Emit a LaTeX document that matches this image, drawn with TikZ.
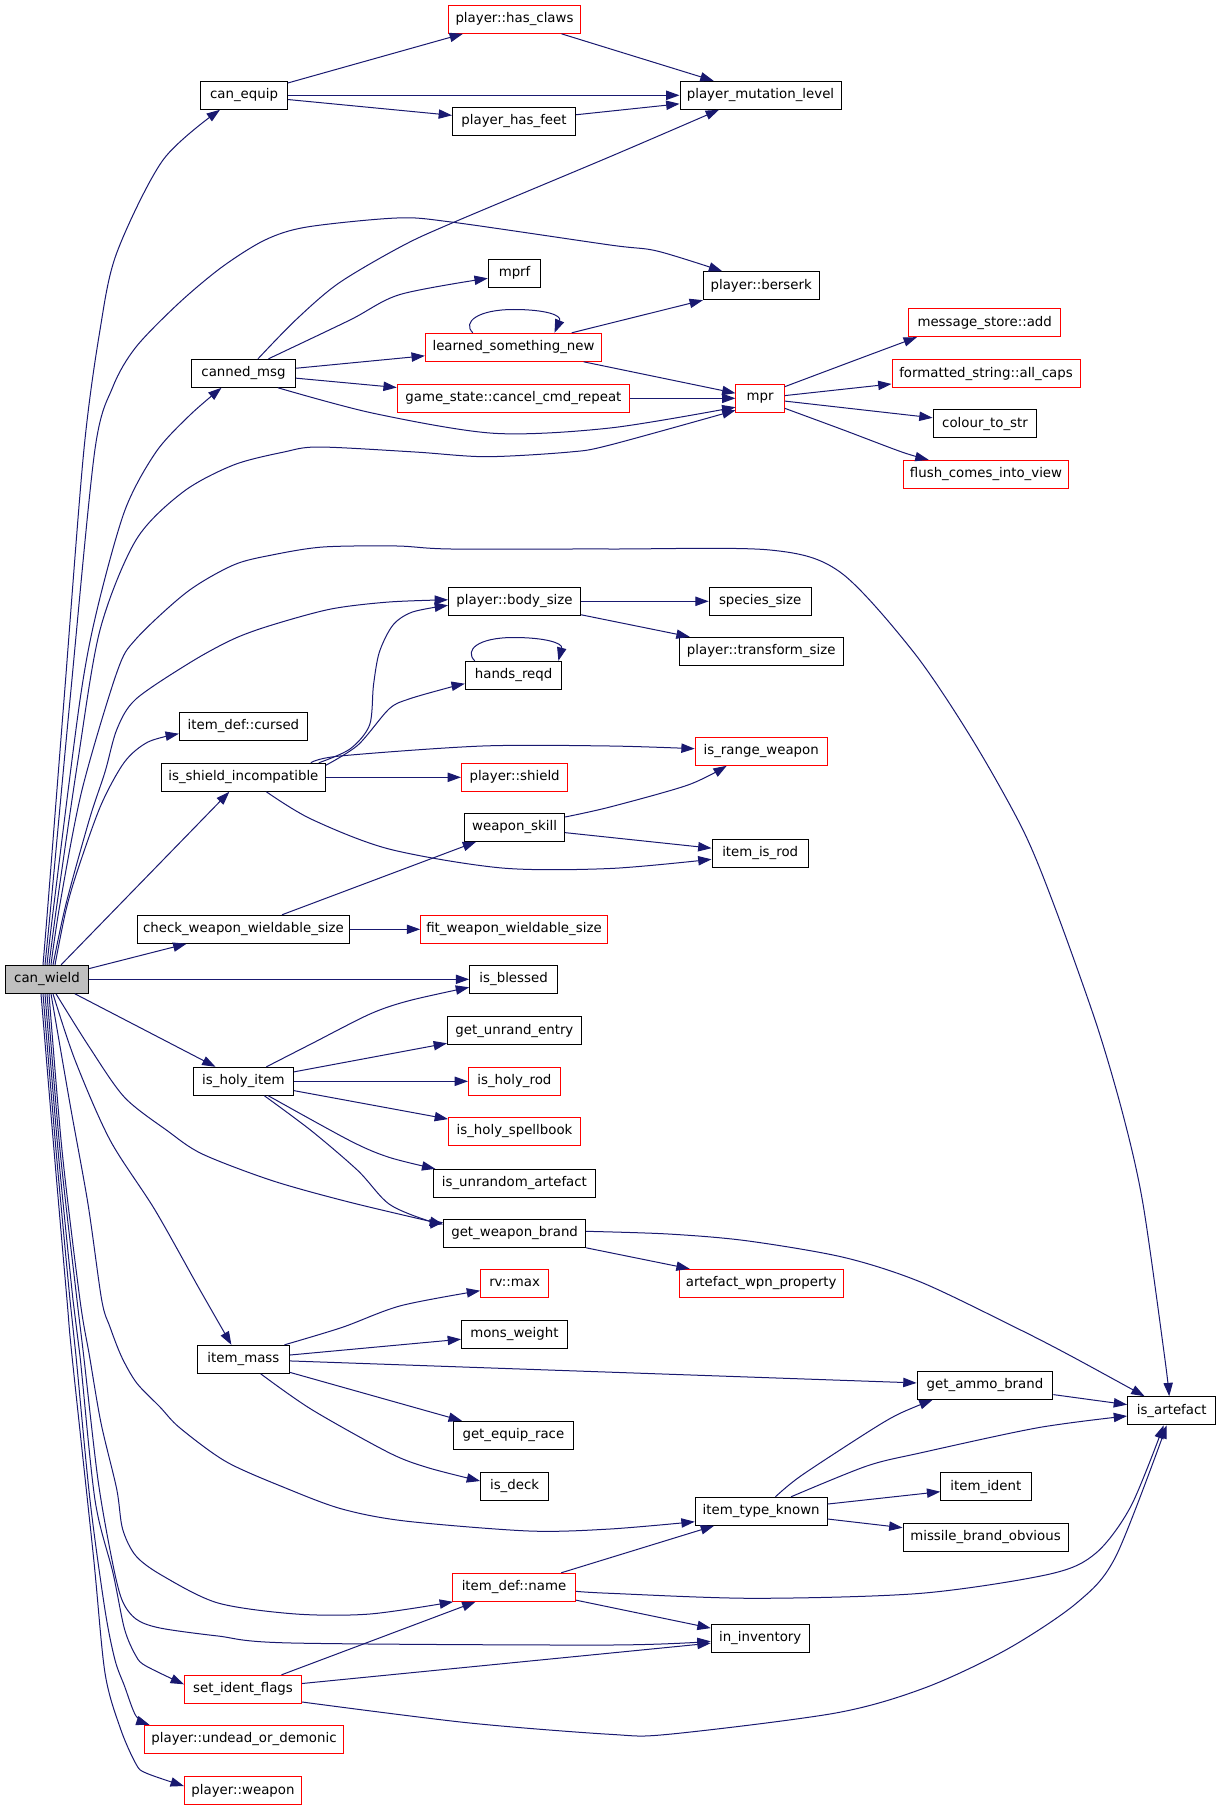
\documentclass[tikz,border=0pt]{standalone}
\usepackage{fontspec}
\setmainfont{DejaVu Sans}
\usetikzlibrary{arrows.meta,calc}
\definecolor{edgec}{HTML}{191970}
\definecolor{boxred}{HTML}{FF0000}
\definecolor{cwfill}{HTML}{BFBFBF}
\begin{document}
\begin{tikzpicture}[x=0.75pt,y=-0.75pt,
  box/.style={draw=black, fill=white, line width=0.75pt, minimum height=21pt, inner sep=0pt, font=\fontsize{10}{12}\selectfont},
  rbox/.style={box, draw=boxred},
  arr/.style={draw=edgec, line width=0.75pt, -{Triangle[length=10pt,width=7pt]}}]
\fill[white] (0,0) rectangle (1221,1808);
\useasboundingbox (0,0) rectangle (1221,1808);
% nodes
\node[rbox,minimum width=99pt] (hc) at (514.5,19.3) {player::has\_claws};
\node[box,minimum width=65.25pt] (ce) at (244,95.3) {can\_equip};
\node[box,minimum width=92.25pt] (hf) at (514,121.3) {player\_has\_feet};
\node[box,minimum width=120.75pt] (ml) at (760.5,95.3) {player\_mutation\_level};
\node[box,minimum width=86.7pt] (bk) at (761.2,285.7) {player::berserk};
\node[box,minimum width=39.45pt] (mprf) at (514.6,273.3) {mprf};
\node[rbox,minimum width=132.2pt] (ln) at (513.5,347.3) {learned\_something\_new};
\node[box,minimum width=78.2pt] (cm) at (243.5,373.3) {canned\_msg};
\node[rbox,minimum width=174.2pt] (cc) at (513.4,398.3) {game\_state::cancel\_cmd\_repeat};
\node[rbox,minimum width=36.2pt] (mpr) at (760.1,398.3) {mpr};
\node[rbox,minimum width=113.85pt] (msa) at (984.7,322.7) {message\_store::add};
\node[rbox,minimum width=141pt] (fac) at (986,373.7) {formatted\_string::all\_caps};
\node[box,minimum width=77.85pt] (cts) at (985,423.7) {colour\_to\_str};
\node[rbox,minimum width=124.35pt] (fciv) at (986,474.3) {flush\_comes\_into\_view};
\node[box,minimum width=99pt] (bs) at (514.5,601.3) {player::body\_size};
\node[box,minimum width=76.5pt] (ss) at (760.2,601.3) {species\_size};
\node[box,minimum width=122.85pt] (ts) at (761.2,651.3) {player::transform\_size};
\node[box,minimum width=72.4pt] (hr) at (513.6,675.3) {hands\_reqd};
\node[box,minimum width=96pt] (cur) at (243.4,726.3) {item\_def::cursed};
\node[box,minimum width=122.85pt] (si) at (243.4,777.3) {is\_shield\_incompatible};
\node[rbox,minimum width=79.65pt] (ps) at (514.6,777.3) {player::shield};
\node[rbox,minimum width=99pt] (rw) at (761.2,751.3) {is\_range\_weapon};
\node[box,minimum width=75pt] (ws) at (514.6,827.3) {weapon\_skill};
\node[box,minimum width=72.3pt] (rod) at (760.2,853.3) {item\_is\_rod};
\node[box,minimum width=159pt] (cws) at (243.4,929.3) {check\_weapon\_wieldable\_size};
\node[rbox,minimum width=140.1pt] (fws) at (514,929.3) {fit\_weapon\_wieldable\_size};
\node[box,fill=cwfill,minimum width=62.5pt] (cw) at (47,979.3) {can\_wield};
\node[box,minimum width=66pt] (ib) at (513.6,979.3) {is\_blessed};
\node[box,minimum width=100.35pt] (gue) at (514.4,1030.7) {get\_unrand\_entry};
\node[box,minimum width=75pt] (hi) at (243.4,1081.3) {is\_holy\_item};
\node[rbox,minimum width=68.85pt] (ihr) at (514.4,1081.3) {is\_holy\_rod};
\node[rbox,minimum width=99pt] (ihs) at (514.5,1131.3) {is\_holy\_spellbook};
\node[box,minimum width=121.35pt] (iua) at (514.4,1183.3) {is\_unrandom\_artefact};
\node[box,minimum width=106.5pt] (wb) at (514.6,1233.3) {get\_weapon\_brand};
\node[rbox,minimum width=51pt] (rv) at (514.6,1283.3) {rv::max};
\node[rbox,minimum width=122.85pt] (awp) at (761.2,1283.3) {artefact\_wpn\_property};
\node[box,minimum width=79.35pt] (mw) at (514.4,1334.3) {mons\_weight};
\node[box,minimum width=69.15pt] (im) at (243.4,1359.3) {item\_mass};
\node[box,minimum width=101.85pt] (ab) at (985,1385.3) {get\_ammo\_brand};
\node[box,minimum width=66.2pt] (ia) at (1171.7,1410.7) {is\_artefact};
\node[box,minimum width=90.15pt] (ger) at (513.4,1435.3) {get\_equip\_race};
\node[box,minimum width=51pt] (dk) at (514.6,1486.3) {is\_deck};
\node[box,minimum width=67.7pt] (iid) at (985.9,1486.7) {item\_ident};
\node[box,minimum width=99pt] (tk) at (761.2,1511.3) {item\_type\_known};
\node[box,minimum width=123.75pt] (mbo) at (985.5,1537.3) {missile\_brand\_obvious};
\node[rbox,minimum width=92.25pt] (nm) at (514,1587.3) {item\_def::name};
\node[box,minimum width=73.5pt] (inv) at (760.2,1638.3) {in\_inventory};
\node[rbox,minimum width=87.9pt] (sf) at (243,1689.3) {set\_ident\_flags};
\node[rbox,minimum width=149.4pt] (ud) at (244,1739.3) {player::undead\_or\_demonic};
\node[rbox,minimum width=87.9pt] (pw) at (243,1790.7) {player::weapon};
% straight edges
\draw[arr] (ce) -- (hc);
\draw[arr] (ce) -- (ml);
\draw[arr] (ce) -- (hf);
\draw[arr] (hc) -- (ml);
\draw[arr] (hf) -- (ml);
\draw[arr] (cm) -- (ln);
\draw[arr] (cm) -- (cc);
\draw[arr] (ln) -- (bk);
\draw[arr] (ln) -- (mpr);
\draw[arr] (cc) -- (mpr);
\draw[arr] (mpr) -- (fac);
\draw[arr] (mpr) -- (cts);
\draw[arr] (cw) -- (si);
\draw[arr] (cw) -- (cws);
\draw[arr] (cw) -- (ib);
\draw[arr] (cw) -- (hi);
\draw[arr] (si) -- (ps);
\draw[arr] (ws) -- (rod);
\draw[arr] (cws) -- (ws);
\draw[arr] (cws) -- (fws);
\draw[arr] (bs) -- (ss);
\draw[arr] (bs) -- (ts);
\draw[arr] (hi) -- (gue);
\draw[arr] (hi) -- (ihr);
\draw[arr] (hi) -- (ihs);
\draw[arr] (wb) -- (awp);
\draw[arr] (im) -- (mw);
\draw[arr] (im) -- (ab);
\draw[arr] (im) -- (ger);
\draw[arr] (ab) -- (ia);
\draw[arr] (tk) -- (iid);
\draw[arr] (tk) -- (mbo);
\draw[arr] (nm) -- (tk);
\draw[arr] (nm) -- (inv);
\draw[arr] (sf) -- (nm);
\draw[arr] (sf) -- (inv);
% self loops
\draw[arr] ($(ln.north)+(-40.7,0)$) .. controls (462,322) and (478,309.5) .. (513.6,309.5) .. controls (545,309.5) and (562,315) .. ($(ln.north)+(41,0)$);
\draw[arr] ($(hr.north)+(-38.9,0)$) .. controls (464,650) and (478,637.5) .. (513.6,637.5) .. controls (545,637.5) and (563,643) .. ($(hr.north)+(44.8,0)$);
% curved edges
\draw[arr] plot[smooth] coordinates {($(cm.north)+(14.5,0)$) (295.7,320) (338.5,283.3) (400.8,246.7) (451.4,223.3) (610,156.7) ($(ml.south)+(-41.5,0)$)};
\draw[arr] plot[smooth] coordinates {($(cm.north)+(25,0)$) (350,320) (400,294.5) ($(mprf.west)+(0,5)$)};
\draw[arr] plot[smooth] coordinates {($(cm.south)+(34.5,0)$) (373.5,413.3) (494,433.3) (610,428) ($(mpr.south west)+(0,-5.6)$)};
\draw[arr] plot[smooth] coordinates {($(mpr.east)+(0,-11.6)$) (851.2,361.7) ($(msa.south west)+(8.6,0)$)};
\draw[arr] plot[smooth] coordinates {($(mpr.east)+(0,10)$) (843.5,430) (901.8,452) ($(fciv.north west)+(26,0)$)};
\draw[arr] plot[smooth] coordinates {($(si.north east)+(-7,0)$) (350,749) (369.6,725) (373.5,685) (379.4,652) (393,625) (412.5,612) ($(bs.west)+(0,4)$)};
\draw[arr] plot[smooth] coordinates {($(si.east)+(0,-12)$) (358,745) (389,709) (409,699) (451,687) ($(hr.west)+(0,8.4)$)};
\draw[arr] plot[smooth] coordinates {($(si.north east)+(-15,0)$) (340,756) (482.5,746) (610,746) ($(rw.west)+(0,-2.6)$)};
\draw[arr] plot[smooth] coordinates {($(si.south)+(23,0)$) (311,819) (389,849) (502,868) (610,868.5) ($(rod.west)+(0,6)$)};
\draw[arr] plot[smooth] coordinates {($(ws.east)+(0,-10.3)$) (610,807) (688,785) ($(rw.south)+(-34.5,0)$)};
\draw[arr] plot[smooth] coordinates {($(hi.north)+(23,0)$) (311,1044) (370,1014) (409,1000.7) ($(ib.west)+(0,8)$)};
\draw[arr] plot[smooth] coordinates {($(hi.south)+(25,0)$) (350,1140.7) (389,1157.3) ($(iua.north west)+(2.3,0)$)};
\draw[arr] plot[smooth] coordinates {($(hi.south)+(21,0)$) (311.3,1130.7) (358,1170.7) (389,1204) (428,1220.7) ($(wb.west)+(0,-11)$)};
\draw[arr] plot[smooth] coordinates {($(wb.east)+(0,-2)$) (668.4,1234) (746.2,1240.7) (843.5,1257.3) (921.3,1282.3) (1018.6,1329) (1071,1356) ($(ia.north west)+(17.5,0)$)};
\draw[arr] plot[smooth] coordinates {($(im.north east)+(-5.5,0)$) (342.4,1327.3) (400.8,1305.7) ($(rv.west)+(0,7.4)$)};
\draw[arr] plot[smooth] coordinates {($(im.south)+(17.3,0)$) (311.3,1409.3) (389,1452.7) (428,1467.7) ($(dk.west)+(0,-5.3)$)};
\draw[arr] plot[smooth] coordinates {($(tk.north)+(14.2,0)$) (800.7,1476) (866.8,1432.7) (898,1414.3) ($(ab.south west)+(16,0)$)};
\draw[arr] plot[smooth] coordinates {($(tk.north)+(29.8,0)$) (866.8,1466) (921.3,1452.7) (1038,1427.7) ($(ia.west)+(0,5.3)$)};
\draw[arr] plot[smooth] coordinates {($(nm.east)+(0,4)$) (610,1593.3) (754,1598.3) (921,1593.3) (1050,1574) (1096,1553) (1131,1506) ($(ia.south)+(-8,0)$)};
\draw[arr] plot[smooth] coordinates {($(sf.east)+(0,12.7)$) (467,1722.7) (610,1734.3) (668.4,1734.3) (835.7,1713) (925.2,1687.7) (1007,1649.3) (1077,1602.7) (1116,1556) ($(ia.south)+(-5,0)$)};
% can_wield upward bundle
\draw[arr] plot[smooth] coordinates {($(cw.north)+(-4,0)$) (48,904) (64,700) (83.7,452) (100,330) (116.7,253) (163,160) ($(ce.south)+(-24,0)$)};
\draw[arr] plot[smooth] coordinates {($(cw.north)+(-2,0)$) (51,904) (70,700) (94.6,452) (112.8,387) (136,347) (179,303) (222,267) (265,240) (307,227) (397,218) (451,222) (610,245) (657,251) ($(bk.north)+(-39,0)$)};
\draw[arr] plot[smooth] coordinates {($(cw.north)+(0,0)$) (54,904) (80,700) (97,610) (125,510) (156,452) (190,415) ($(cm.south)+(-22,0)$)};
\draw[arr] plot[smooth] coordinates {($(cw.north)+(2,0)$) (57,904) (78,760) (100,630) (136,540) (183,492) (233.5,465) (284,452) (319,447) (415,452) (486,456.7) (570,452) (610,445) ($(mpr.south west)+(0,-2.5)$)};
\draw[arr] plot[smooth] coordinates {($(cw.north)+(4,0)$) (60,904) (82,790) (117,672) (136,639) (187,592) (233.5,565) (272,555) (323,547) (397,546) (451,549) (610,549) (770,550) (840,572) (913.5,652) (972,739) (1022.5,829) (1053.6,904) (1096.4,1024) (1123.6,1117) (1143,1204) (1164.5,1356) ($(ia.north)+(-2.5,0)$)};
\draw[arr] plot[smooth] coordinates {($(cw.north)+(6,0)$) (66,904) (89.5,819) (105,772) (117,729) (136,699) (191,662) (233.5,639) (272,625) (331,609) (389,602) ($(bs.west)+(0,-1.5)$)};
\draw[arr] plot[smooth] coordinates {($(cw.north)+(8,0)$) (66,910) (78,869) (101,805) (124.5,762) (148,742) ($(cur.west)+(0,7.4)$)};
% can_wield downward bundle
\draw[arr] plot[smooth] coordinates {($(cw.south)+(9,0)$) (89.5,1047.3) (124.5,1097.3) (167.3,1130.7) (202.3,1154) (272.4,1180.7) (350,1202.3) ($(wb.west)+(0,-9)$)};
\draw[arr] plot[smooth] coordinates {($(cw.south)+(6,0)$) (75,1060) (110,1140) (155,1210) (200,1290) ($(im.north)+(-12,0)$)};
\draw[arr] plot[smooth] coordinates {($(cw.south)+(4,0)$) (70,1104) (88,1204) (101.7,1300) (110,1327) (121.7,1357) (136.7,1383) (160,1407) (180,1428) (226.7,1462) (288,1489) (342,1509) (405,1521) (529,1531) (610,1529) ($(tk.west)+(0,10.4)$)};
\draw[arr] plot[smooth] coordinates {($(cw.south)+(2,0)$) (62,1150) (80,1300) (89.5,1356) (101,1423) (116.7,1489) (122.6,1529) (136,1556) (163,1576) (218,1603) (296,1614) (370,1614) ($(nm.south west)+(1,0)$)};
\draw[arr] plot[smooth] coordinates {($(cw.south)+(0,0)$) (60,1150) (77,1300) (83.7,1356) (98,1480) (112,1560) (122,1600) (136,1619) (160,1628) (218,1636) (292,1643) (610,1645) ($(inv.west)+(0,3)$)};
\draw[arr] plot[smooth] coordinates {($(cw.south)+(-2,0)$) (58,1150) (73,1300) (80,1356) (95,1500) (113,1573) (124.5,1629) (136,1656) (146,1666) ($(sf.west)+(0,-5)$)};
\draw[arr] plot[smooth] coordinates {($(cw.south)+(-4,0)$) (56,1150) (70,1300) (76,1356) (90,1500) (105,1610) (115,1660) (124.5,1686) (136,1716) ($(ud.north west)+(5.6,0)$)};
\draw[arr] plot[smooth] coordinates {($(cw.south)+(-6,0)$) (54,1150) (67,1300) (72,1356) (93.4,1556) (105,1673) (120.6,1729) (136,1764) (146,1773) ($(pw.west)+(0,-4.7)$)};
\end{tikzpicture}
\end{document}
